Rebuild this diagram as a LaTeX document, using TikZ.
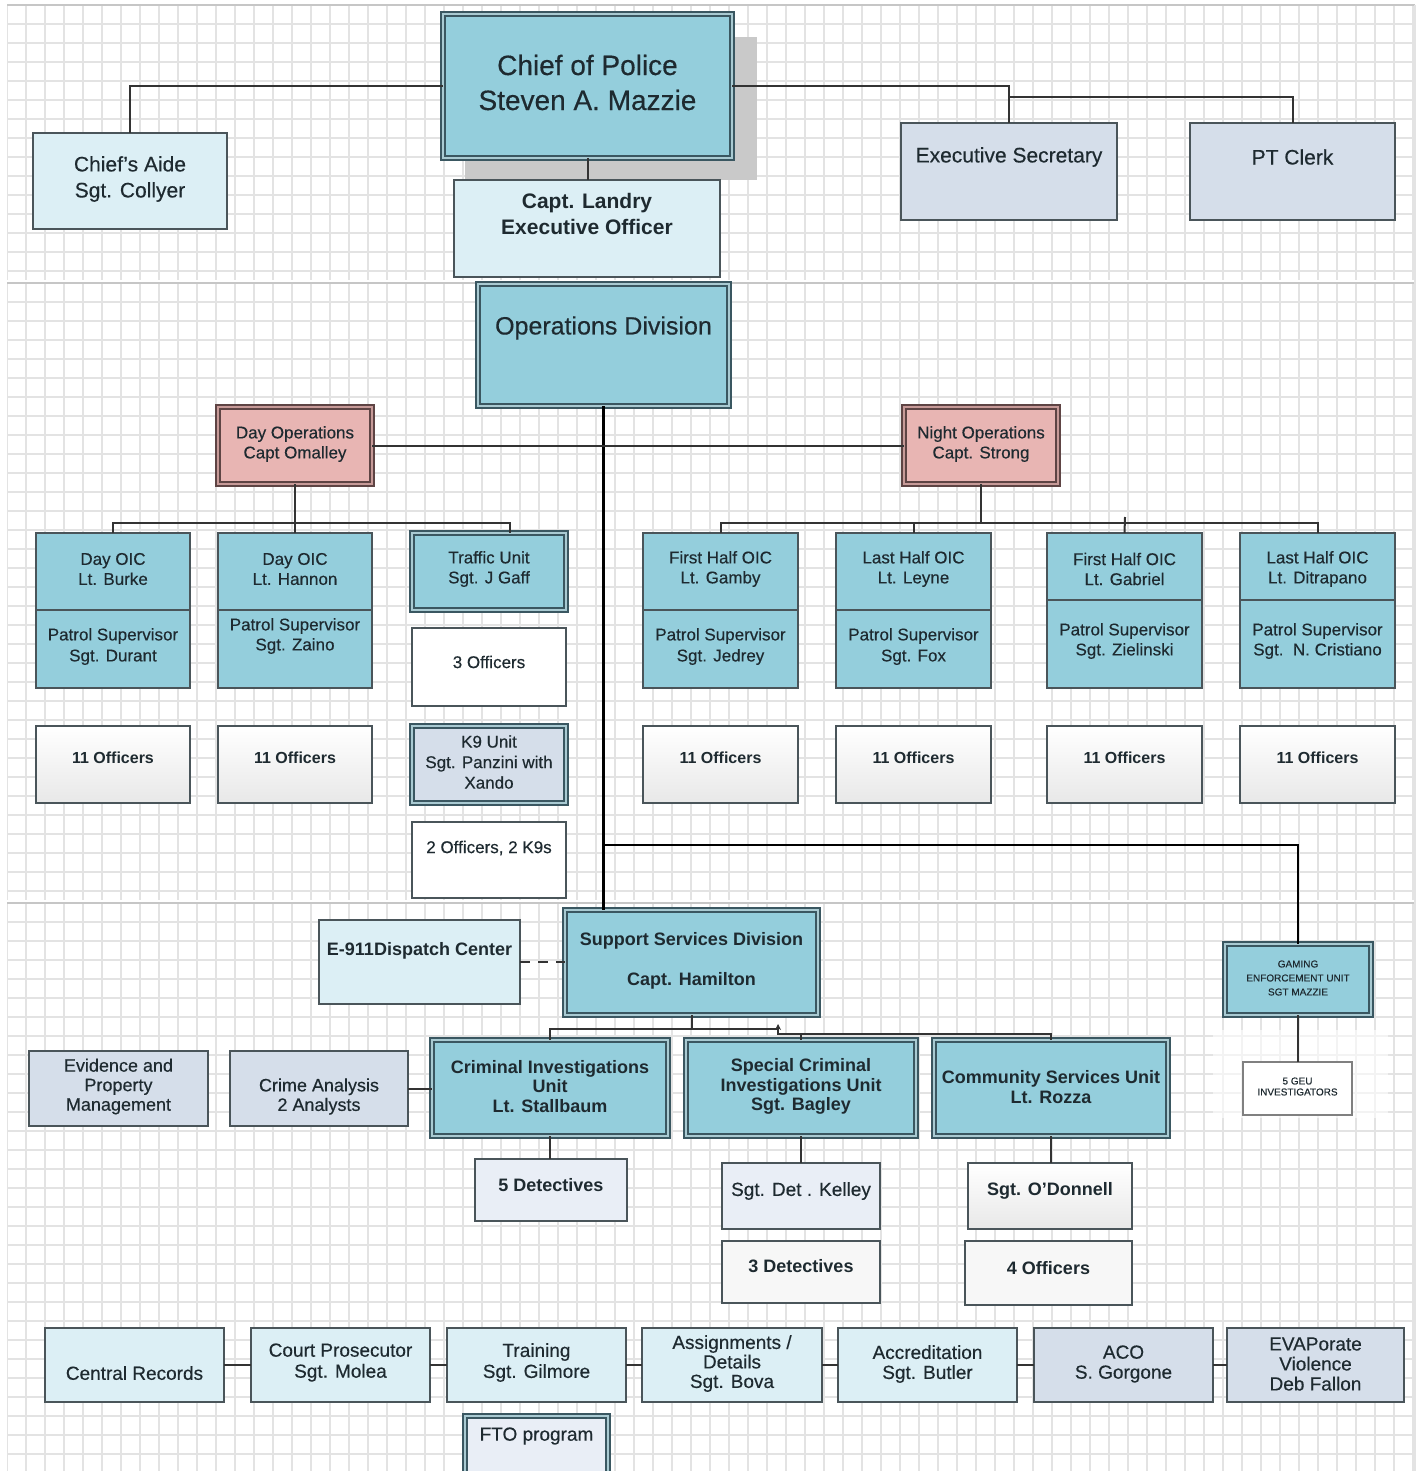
\documentclass[tikz,border=0pt]{standalone}
\usepackage{fontspec}
\setmainfont{Liberation Sans}[UprightFeatures={FakeBold=0.35}]
\usetikzlibrary{fit,arrows.meta}
\definecolor{teal1}{HTML}{94CEDC}
\definecolor{tealbd}{HTML}{3A5761}
\definecolor{dblin}{HTML}{A9CAD2}
\definecolor{lblue}{HTML}{DCEFF5}
\definecolor{lav}{HTML}{D5DEEA}
\definecolor{pinkf}{HTML}{E8B5B3}
\definecolor{pinkbd}{HTML}{5E4444}
\definecolor{pinkin}{HTML}{C79A98}
\definecolor{pale}{HTML}{E9EEF6}
\definecolor{bd}{HTML}{4A555A}
\definecolor{ink}{HTML}{1E2A30}
\definecolor{gridc}{HTML}{E3E3E3}
\definecolor{shadowc}{HTML}{C9C9C9}
\definecolor{connc}{HTML}{333333}
\newcommand\fsz[2]{\fontsize{#1}{#2}\selectfont}
\newcommand\orgbox[9]{%
  \node[#2, fit={(#3,#4)(#5,#6)}] (#1) {};
  \node[txt, font=#8] (#1-t) at ({(#3+#5)/2},#7) {#9};}
\begin{document}
\begin{tikzpicture}[x=0.5pt,y=-0.5pt,
  obx/.style={inner sep=0pt, outer sep=0pt, draw=bd, line width=0.9pt},
  dbx/.style={inner sep=0pt, outer sep=0pt, draw=tealbd, line width=1.25pt, double=dblin, double distance=0.6pt},
  pbx/.style={inner sep=0pt, outer sep=0pt, draw=pinkbd, line width=1.25pt, double=pinkin, double distance=0.6pt, fill=pinkf},
  gbx/.style={obx, top color=white, bottom color=gray!18},
  txt/.style={inner sep=0pt, align=center, text=ink},
  conn/.style={draw=connc, line width=1pt},
  mainline/.style={draw=black, line width=1.3pt},
  gridl/.style={draw=gridc, line width=0.6pt}]
\fill[white] (0,0) rectangle (1420,1471);
\useasboundingbox (0,0) rectangle (1420,1471);
% grid panels
\foreach \ya/\yb in {5/280,283/900,903/1471}{
  \begin{scope}
    \clip (7,\ya) rectangle (1415,\yb);
    \foreach \k in {0,...,74} \draw[gridl] (7+19*\k,\ya) -- (7+19*\k,\yb);
    \foreach \k in {0,...,32} \draw[gridl] (7,\ya+19*\k) -- (1415,\ya+19*\k);
  \end{scope}
  \draw[gray!45, line width=0.7pt] (7,\ya) -- (1415,\ya);
}
\draw[gridl] (1415,5) -- (1415,1471);
\fill[white, opacity=0.6] (1213,1030) rectangle (1388,1118);
% top level
\fill[shadowc] (465,37) rectangle (757,180);
\orgbox{chief}{dbx, fill=teal1}{443}{14}{732}{158}{82.5}{\fsz{14}{17.5}}{Chief of Police\\Steven A. Mazzie}
\orgbox{aide}{obx, fill=lblue}{33}{133}{227}{229}{179}{\fsz{10.5}{13}}{Chief's Aide\\Sgt. Collyer}
\orgbox{exsec}{obx, fill=lav}{901}{123}{1117}{220}{157}{\fsz{10.5}{13}}{Executive Secretary}
\orgbox{ptclerk}{obx, fill=lav}{1190}{123}{1395}{220}{157}{\fsz{10.5}{13}}{PT Clerk}
\orgbox{landry}{obx, fill=lblue}{454}{180}{720}{277}{214}{\bfseries\fsz{10.5}{13}}{Capt. Landry\\Executive Officer}
% operations
\orgbox{ops}{dbx, fill=teal1}{478}{284}{729}{406}{328}{\fsz{12.5}{15}}{Operations Division}
\orgbox{dayops}{pbx}{218}{407}{372}{484}{444}{\fsz{8.5}{10}}{Day Operations\\Capt Omalley}
\orgbox{nightops}{pbx}{904}{407}{1058}{484}{444}{\fsz{8.5}{10}}{Night Operations\\Capt. Strong}
\orgbox{burkeA}{obx, fill=teal1}{36}{533}{190}{610}{569}{\fsz{8.5}{10}}{Day OIC\\Lt. Burke}
\orgbox{burkeB}{obx, fill=teal1}{36}{610}{190}{688}{646.5}{\fsz{8.5}{10.5}}{Patrol Supervisor\\Sgt. Durant}
\orgbox{hannonA}{obx, fill=teal1}{218}{533}{372}{610}{569}{\fsz{8.5}{10}}{Day OIC\\Lt. Hannon}
\orgbox{hannonB}{obx, fill=teal1}{218}{610}{372}{688}{636}{\fsz{8.5}{10}}{Patrol Supervisor\\Sgt. Zaino}
\orgbox{traffic}{dbx, fill=teal1}{412}{533}{566}{610}{569}{\fsz{8.5}{10}}{Traffic Unit\\Sgt. J Gaff}
\orgbox{offthree}{obx, fill=white}{412}{628}{566}{706}{662}{\fsz{8.5}{10}}{3 Officers}
\orgbox{kn}{dbx, fill=lav}{412}{726}{566}{803}{762}{\fsz{8.5}{10.25}}{K9 Unit\\Sgt. Panzini with\\Xando}
\orgbox{offtwo}{obx, fill=white}{412}{822}{566}{898}{848}{\fsz{8.5}{10}}{2 Officers, 2 K9s}
\orgbox{burkeO}{gbx}{36}{726}{190}{803}{758}{\bfseries\fsz{8}{10}}{11 Officers}
\orgbox{hannonO}{gbx}{218}{726}{372}{803}{758}{\bfseries\fsz{8}{10}}{11 Officers}
\orgbox{gambyA}{obx, fill=teal1}{643}{533}{798}{610}{569}{\fsz{8.5}{10}}{First Half OIC\\Lt. Gamby}
\orgbox{gambyB}{obx, fill=teal1}{643}{610}{798}{688}{646.5}{\fsz{8.5}{10.5}}{Patrol Supervisor\\Sgt. Jedrey}
\orgbox{leyneA}{obx, fill=teal1}{836}{533}{991}{610}{569}{\fsz{8.5}{10}}{Last Half OIC\\Lt. Leyne}
\orgbox{leyneB}{obx, fill=teal1}{836}{610}{991}{688}{646.5}{\fsz{8.5}{10.5}}{Patrol Supervisor\\Sgt. Fox}
\orgbox{gabrielA}{obx, fill=teal1}{1047}{533}{1202}{600}{569}{\fsz{8.5}{10}}{First Half OIC\\Lt. Gabriel}
\orgbox{gabrielB}{obx, fill=teal1}{1047}{600}{1202}{688}{641}{\fsz{8.5}{10}}{Patrol Supervisor\\Sgt. Zielinski}
\orgbox{ditraA}{obx, fill=teal1}{1240}{533}{1395}{600}{569}{\fsz{8.5}{10}}{Last Half OIC\\Lt. Ditrapano}
\orgbox{ditraB}{obx, fill=teal1}{1240}{600}{1395}{688}{641}{\fsz{8.5}{10}}{Patrol Supervisor\\Sgt.\ \ N. Cristiano}
\orgbox{gambyO}{gbx}{643}{726}{798}{803}{758}{\bfseries\fsz{8}{10}}{11 Officers}
\orgbox{leyneO}{gbx}{836}{726}{991}{803}{758}{\bfseries\fsz{8}{10}}{11 Officers}
\orgbox{gabrielO}{gbx}{1047}{726}{1202}{803}{758}{\bfseries\fsz{8}{10}}{11 Officers}
\orgbox{ditraO}{gbx}{1240}{726}{1395}{803}{758}{\bfseries\fsz{8}{10}}{11 Officers}
% support services
\orgbox{ss}{dbx, fill=teal1}{565}{910}{818}{1015}{961}{\bfseries\fsz{9}{10}}{Support Services Division\\[10pt]Capt. Hamilton}
\orgbox{eoneone}{obx, fill=lblue}{319}{920}{520}{1004}{951}{\bfseries\fsz{9}{10}}{E-911Dispatch Center}
\orgbox{gaming}{dbx, fill=teal1}{1225}{944}{1371}{1015}{978}{\fsz{5}{7}}{GAMING\\ENFORCEMENT UNIT\\SGT MAZZIE}
\orgbox{geu}{obx, fill=white, draw=gray}{1243}{1062}{1352}{1115}{1086.5}{\fsz{5}{5.5}}{5 GEU\\INVESTIGATORS}
\orgbox{evid}{obx, fill=lav}{29}{1051}{208}{1126}{1086.5}{\fsz{9}{9.75}}{Evidence and\\Property\\Management}
\orgbox{crime}{obx, fill=lav}{230}{1051}{408}{1126}{1096.5}{\fsz{9}{9.75}}{Crime Analysis\\2 Analysts}
\orgbox{ciu}{dbx, fill=teal1}{432}{1040}{668}{1136}{1086.5}{\bfseries\fsz{9}{9.75}}{Criminal Investigations\\Unit\\Lt. Stallbaum}
\orgbox{sciu}{dbx, fill=teal1}{686}{1040}{916}{1136}{1086.5}{\bfseries\fsz{9}{9.75}}{Special Criminal\\Investigations Unit\\Sgt. Bagley}
\orgbox{csu}{dbx, fill=teal1}{934}{1040}{1168}{1136}{1087}{\bfseries\fsz{9}{10}}{Community Services Unit\\Lt. Rozza}
\orgbox{detfive}{obx, fill=pale}{475}{1159}{627}{1221}{1185}{\bfseries\fsz{9}{10}}{5 Detectives}
\orgbox{kelley}{obx, fill=pale}{722}{1163}{880}{1229}{1191}{\fsz{9.5}{10}}{Sgt. Det . Kelley}
\orgbox{odon}{gbx}{968}{1163}{1132}{1229}{1191}{\bfseries\fsz{9}{10}}{Sgt. O'Donnell}
\orgbox{detthree}{obx, fill=gray!6}{722}{1241}{880}{1303}{1266}{\bfseries\fsz{9}{10}}{3 Detectives}
\orgbox{offfour}{obx, fill=gray!6}{965}{1241}{1132}{1305}{1268}{\bfseries\fsz{9}{10}}{4 Officers}
% bottom row
\orgbox{cr}{obx, fill=lblue}{45}{1328}{224}{1402}{1373}{\fsz{9.5}{10.5}}{Central Records}
\orgbox{cp}{obx, fill=lblue}{251}{1328}{430}{1402}{1362.5}{\fsz{9.5}{10.5}}{Court Prosecutor\\Sgt. Molea}
\orgbox{tr}{obx, fill=lblue}{447}{1328}{626}{1402}{1362.5}{\fsz{9.5}{10.5}}{Training\\Sgt. Gilmore}
\orgbox{asg}{obx, fill=lblue}{642}{1328}{822}{1402}{1363.5}{\fsz{9.5}{9.75}}{Assignments /\\Details\\Sgt. Bova}
\orgbox{acc}{obx, fill=lblue}{838}{1328}{1017}{1402}{1364}{\fsz{9.5}{10}}{Accreditation\\Sgt. Butler}
\orgbox{aco}{obx, fill=lav}{1034}{1328}{1213}{1402}{1364}{\fsz{9.5}{10}}{ACO\\S. Gorgone}
\orgbox{eva}{obx, fill=lav}{1227}{1328}{1404}{1402}{1364}{\fsz{9.5}{10}}{EVAPorate\\Violence\\Deb Fallon}
\orgbox{fto}{dbx, fill=pale}{465}{1416}{608}{1480}{1436}{\fsz{9.5}{10}}{FTO program}
% connectors
\coordinate (estwo) at (1009,97);
\coordinate (dbus) at (295,523);
\coordinate (tdrop) at (510,533);
\coordinate (nbus) at (981,523);
\coordinate (ntick) at (1125,517);
\coordinate (gj) at (604,845);
\coordinate (ssb) at (691.5,1029);
\coordinate (jogone) at (778,1029);
\coordinate (jogtwo) at (778,1034);
\draw[conn] (chief.west) -| (aide.north);
\draw[conn] (chief.east) -| (exsec.north);
\draw[conn] (estwo) -| (ptclerk.north);
\draw[conn] (chief.south) -- (chief.south |- landry.north);
\draw[mainline] (ops.south) -- (ops.south |- ss.north);
\draw[conn] (dayops.east) -- (nightops.west);
\draw[conn] (dayops.south) -- (dbus);
\draw[conn] (burkeA.north) |- (dbus) -- (dbus -| tdrop) -- (tdrop);
\draw[conn] (hannonA.north) -- (dbus);
\draw[conn] (nightops.south) -- (nbus);
\draw[conn] (gambyA.north) |- (nbus) -| (ditraA.north);
\draw[conn] (leyneA.north) -- (leyneA.north |- nbus);
\draw[conn] (gabrielA.north) -- (ntick);
\draw[mainline] (gj) -| (gaming.north);
\draw[conn] (gaming.south) -- (gaming.south |- geu.north);
\draw[conn, dash pattern=on 5pt off 4pt] (eoneone.east) -- (eoneone.east -| ss.west);
\draw[conn] (ss.south) -- (ssb);
\draw[conn] (ciu.north) |- (jogone) -- (jogtwo) -| (sciu.north);
\draw[conn] (jogtwo) -| (csu.north);
\draw[conn, -{Stealth[length=3pt,width=3pt]}] (jogone) -- ++(0,-5);
\draw[conn] (crime.east) -- (crime.east -| ciu.west);
\draw[conn] (ciu.south) -- (ciu.south |- detfive.north);
\draw[conn] (sciu.south) -- (sciu.south |- kelley.north);
\draw[conn] (csu.south) -- (csu.south |- odon.north);
\draw[conn] (cr.east) -- (cp.west);
\draw[conn] (cp.east) -- (tr.west);
\draw[conn] (tr.east) -- (asg.west);
\draw[conn] (asg.east) -- (acc.west);
\draw[conn] (acc.east) -- (aco.west);
\draw[conn] (aco.east) -- (eva.west);
\end{tikzpicture}
\end{document}
